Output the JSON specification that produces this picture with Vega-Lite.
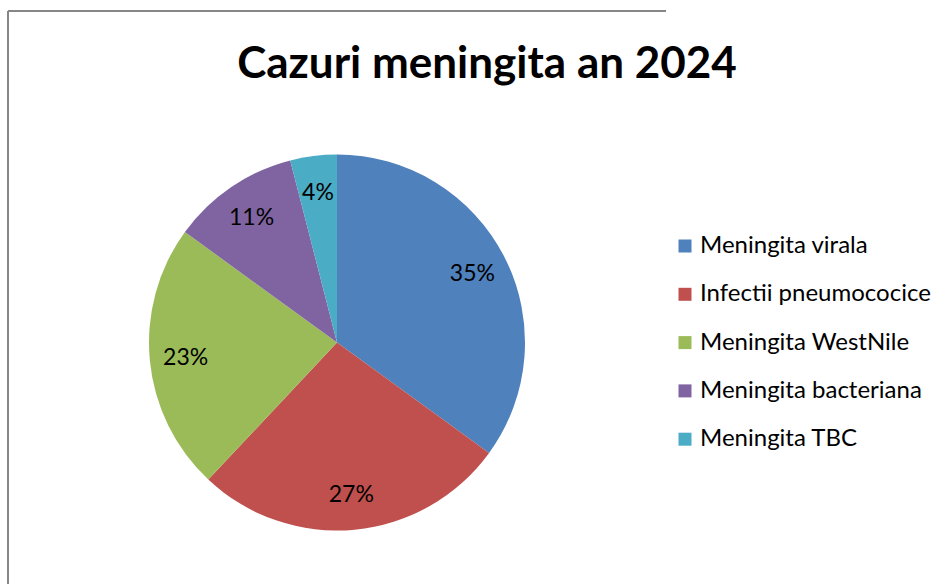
{
  "$schema": "https://vega.github.io/schema/vega-lite/v6.json",
  "autosize": {"type": "none"},
  "padding": {"left": 8, "top": 11, "right": 283, "bottom": -90},
  "width": 658,
  "height": 663,
  "background": "white",
  "view": {"stroke": "#868686", "strokeWidth": 2, "strokeDash": [658, 1321, 663, 0]},
  "config": {
    "font": "Lato"
  },
  "title": {
    "text": "Cazuri meningita an 2024",
    "font": "Lato",
    "fontSize": 44,
    "fontWeight": "bold",
    "color": "black",
    "anchor": "middle",
    "frame": "group",
    "dx": 150,
    "dy": 111,
    "offset": 0,
    "baseline": "alphabetic"
  },
  "data": {
    "values": [
      {"category": "Meningita virala", "pct": 35, "label": "35%", "order": 1},
      {"category": "Infectii pneumococice", "pct": 27, "label": "27%", "order": 2},
      {"category": "Meningita WestNile", "pct": 23, "label": "23%", "order": 3},
      {"category": "Meningita bacteriana", "pct": 11, "label": "11%", "order": 4},
      {"category": "Meningita TBC", "pct": 4, "label": "4%", "order": 5}
    ]
  },
  "encoding": {
    "theta": {"field": "pct", "type": "quantitative", "stack": true},
    "order": {"field": "order", "type": "quantitative"}
  },
  "layer": [
    {
      "mark": {"type": "arc", "outerRadius": 188},
      "encoding": {
        "color": {
          "field": "category",
          "type": "nominal",
          "sort": ["Meningita virala", "Infectii pneumococice", "Meningita WestNile", "Meningita bacteriana", "Meningita TBC"],
          "scale": {
            "domain": ["Meningita virala", "Infectii pneumococice", "Meningita WestNile", "Meningita bacteriana", "Meningita TBC"],
            "range": ["#4F81BD", "#C0504D", "#9BBB59", "#8064A2", "#4BACC6"]
          },
          "legend": {
            "title": null,
            "orient": "none",
            "legendX": 665,
            "legendY": 223,
            "padding": 0,
            "symbolType": "square",
            "symbolSize": 169,
            "symbolStrokeWidth": 0,
            "symbolOpacity": 1,
            "labelFont": "Lato",
            "labelFontSize": 24,
            "labelColor": "black",
            "labelOffset": 3,
            "rowPadding": 24.3,
            "labelLimit": 400
          }
        }
      }
    },
    {
      "mark": {"type": "text", "radius": 152, "fontSize": 23, "font": "Lato", "color": "black", "align": "center", "baseline": "middle", "dy": 1},
      "encoding": {"text": {"field": "label", "type": "nominal"}}
    }
  ]
}
